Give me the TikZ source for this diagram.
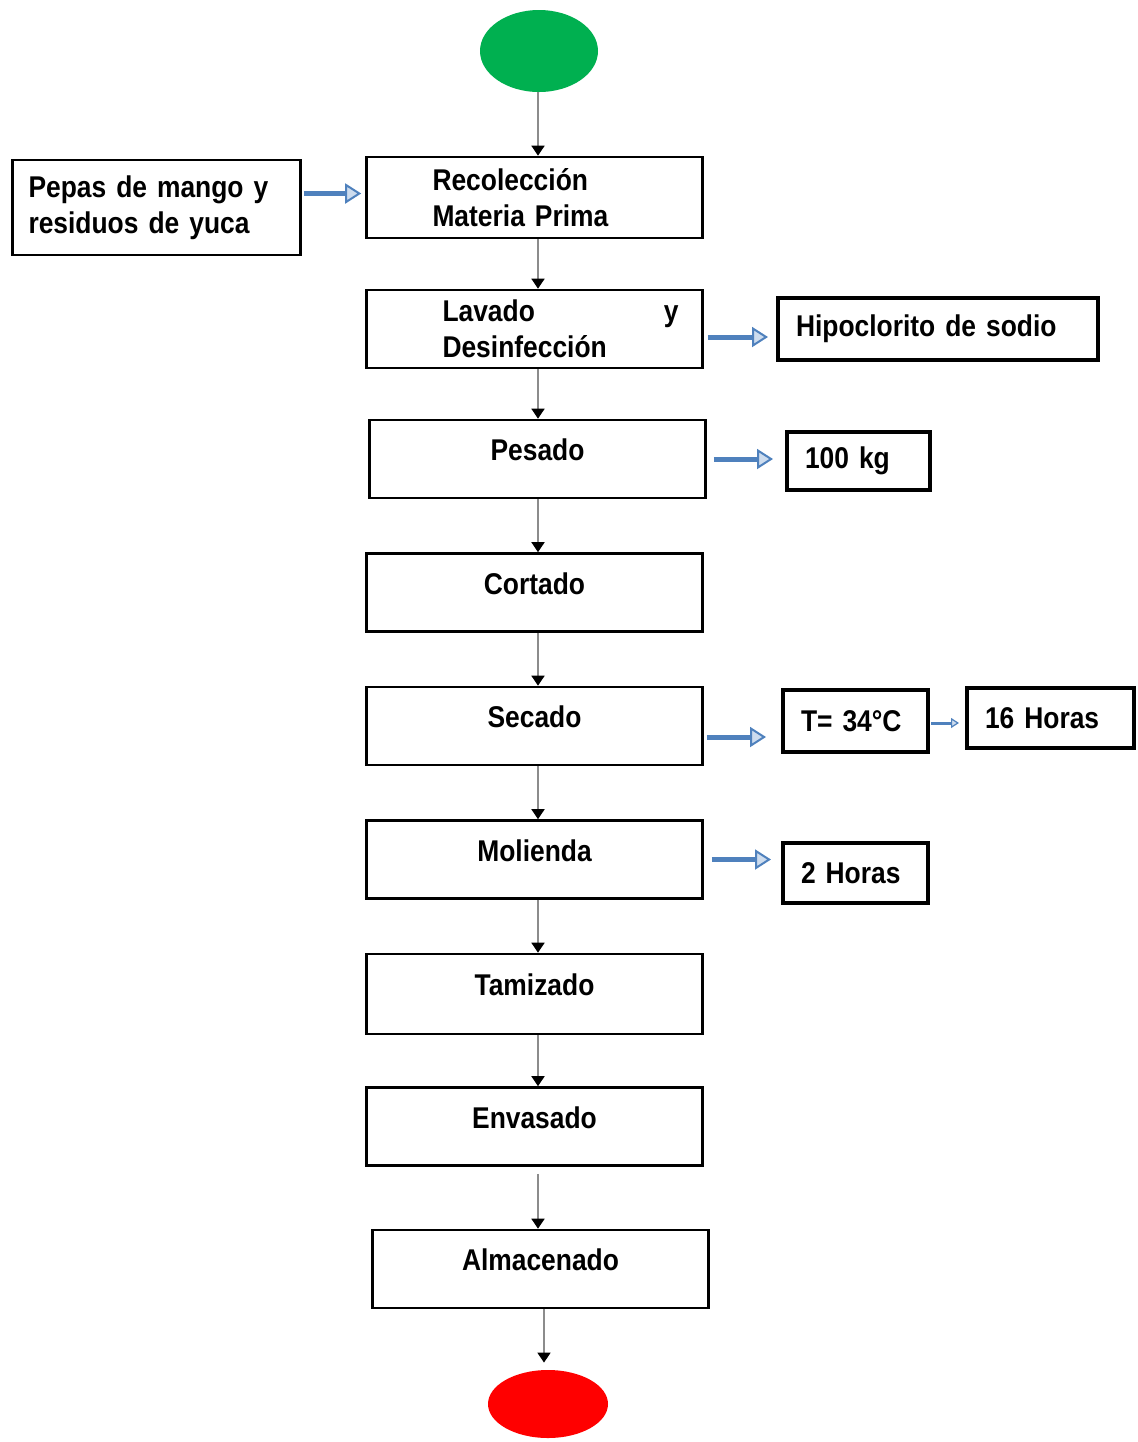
\documentclass[tikz,border=0pt]{standalone}
\usepackage{fontspec}
\setmainfont{Liberation Sans}[FakeStretch=0.88, WordSpace=0.8]
\usetikzlibrary{positioning,arrows.meta,shapes.geometric,calc}
\definecolor{verde}{RGB}{0,176,80}
\definecolor{rojo}{RGB}{255,0,0}
\definecolor{azul}{RGB}{79,129,189}
\definecolor{azulclaro}{RGB}{205,220,238}
\definecolor{gris}{RGB}{140,140,140}
\tikzset{
  caja/.style={draw, line width=1.3pt, minimum width=168pt, minimum height=39pt,
    inner sep=0pt, text depth=9pt, align=center, font=\fontsize{15}{18}\selectfont\bfseries},
  dos/.style={text width=168pt, align=left, text depth=},
  dato/.style={draw, line width=2pt, align=left, inner xsep=9pt, inner ysep=0pt,
    text width=#1, minimum height=30pt, font=\fontsize{15}{18}\selectfont\bfseries},
  dato/.default=54pt,
  extremo/.style={ellipse, draw=none, fill=#1, minimum width=59pt, minimum height=41pt},
  flecha/.style={gris, line width=0.8pt, -{Triangle[length=5pt,width=6.5pt,color=black]}},
  flechaazul/.style={azul, line width=2.5pt,
    -{Triangle[length=8pt,width=10pt,line width=1pt,fill=azulclaro]}},
  flechachica/.style={azul, line width=1.5pt,
    -{Triangle[length=4pt,width=5pt,line width=0.6pt,fill=azulclaro]}},
}

\begin{document}
\begin{tikzpicture}[x=0.5pt,y=-0.5pt]
  \useasboundingbox (0,0) rectangle (1137,1442);
  % inicio y fin
  \node[extremo=verde] (inicio) at (539,51) {};
  \node[extremo=rojo, minimum width=60pt, minimum height=34pt] (fin) at (548,1404) {};
  % etapas del proceso
  \node[caja, dos, minimum height=40.5pt] (recol) at (534.5,197.5)
    {\hspace*{33pt}Recolección\\\hspace*{33pt}Materia Prima};
  \node[caja, dos] (lavado) at (534.5,329)
    {\hspace*{38pt}Lavado\hfill y\kern12pt\\\hspace*{38pt}Desinfección};
  \node[caja] (pesado) at (537.5,459) {Pesado};
  \node[caja] (cortado) at (534.5,592.5) {Cortado};
  \node[caja] (secado) at (534.5,726) {Secado};
  \node[caja] (molienda) at (534.5,859.5) {Molienda};
  \node[caja, minimum height=40pt] (tamizado) at (534.5,994) {Tamizado};
  \node[caja] (envasado) at (534.5,1126.5) {Envasado};
  \node[caja] (almacenado) at (540.5,1269) {Almacenado};
  % datos laterales
  \node[dato=128pt, line width=1.3pt, inner xsep=8pt, minimum height=47.5pt] (pepas) at (156.5,207.5)
    {Pepas de mango y\\residuos de yuca};
  \node[dato=142pt, minimum height=31pt] (hipo) at (938,329) {Hipoclorito de sodio};
  \node[dato=53.5pt, minimum height=29pt] (kg) at (858.5,461) {100 kg};
  \node[dato=54.5pt, minimum height=31pt] (temp) at (855.5,721) {T= 34°C};
  \node[dato=65.5pt] (horas16) at (1050.5,718) {16 Horas};
  \node[dato=54.5pt] (horas2) at (855.5,873) {2 Horas};
  % flechas del flujo
  \coordinate (eje) at (538,0);
  \coordinate (eje2) at (544,0);
  \foreach \a/\b in {inicio/recol, recol/lavado, lavado/pesado, pesado/cortado,
                     cortado/secado, secado/molienda, molienda/tamizado, tamizado/envasado} {
    \draw[flecha] (\a.south -| eje) -- (\b.north -| eje);
  }
  \draw[flecha, shorten <=3.5pt] (envasado.south -| eje) -- (almacenado.north -| eje);
  \draw[flecha, shorten >=3.5pt] (almacenado.south -| eje2) -- (fin.north -| eje2);
  % flechas azules
  \coordinate (c1) at ([yshift=2pt]recol.west);
  \draw[flechaazul, shorten <=1pt, shorten >=2pt] (c1 -| pepas.east) -- (c1);
  \coordinate (c2) at ([yshift=-4pt]lavado.east);
  \draw[flechaazul, shorten <=2pt, shorten >=4pt] (c2) -- (c2 -| hipo.west);
  \coordinate (c3) at (pesado.east);
  \draw[flechaazul, shorten <=3.5pt, shorten >=6pt] (c3) -- (c3 -| kg.west);
  \coordinate (c4) at ([yshift=-5.5pt]secado.east);
  \draw[flechaazul, shorten <=1.5pt, shorten >=7.5pt] (c4) -- (c4 -| temp.west);
  \coordinate (c5) at (molienda.east);
  \draw[flechaazul, shorten <=4pt, shorten >=5pt] (c5) -- (c5 -| horas2.west);
  \coordinate (c6) at ([yshift=-1pt]temp.east);
  \draw[flechachica, shorten <=0.5pt, shorten >=3pt] (c6) -- (c6 -| horas16.west);
\end{tikzpicture}
\end{document}
